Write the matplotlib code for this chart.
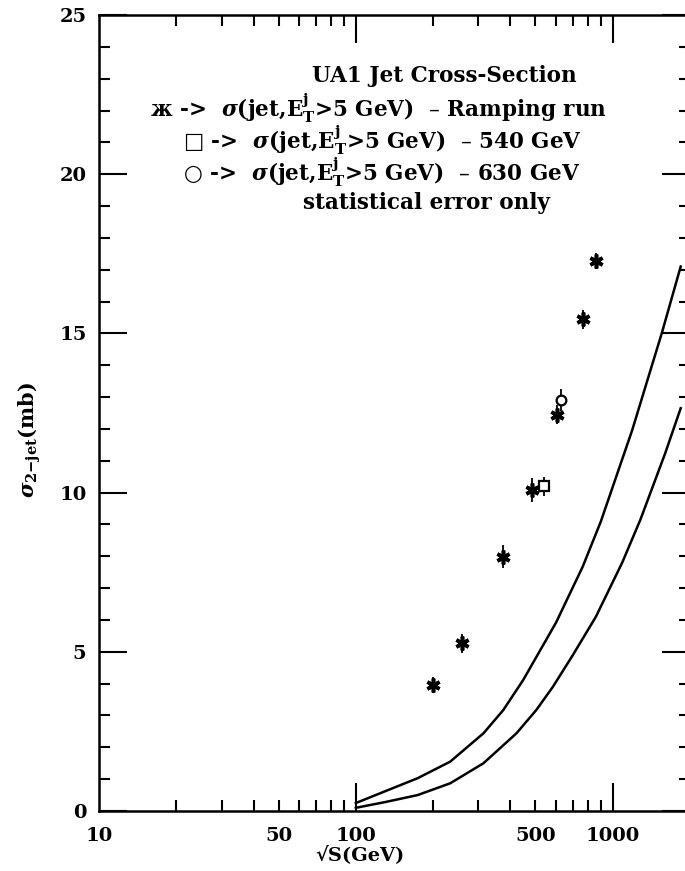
import matplotlib.pyplot as plt
from matplotlib.ticker import FixedLocator, NullFormatter, MultipleLocator
import numpy as np

plt.rcParams['font.family'] = ['DejaVu Serif', 'DejaVu Sans']
plt.rcParams['font.weight'] = 'bold'
plt.rcParams['mathtext.fontset'] = 'dejavuserif'

# ramping run points (sqrt(s) in GeV, sigma in mb)
ramp_x = [200, 259, 373, 483, 607, 764, 860]
ramp_y = [3.96, 5.27, 7.99, 10.08, 12.44, 15.45, 17.28]
ramp_err = [0.25, 0.3, 0.35, 0.37, 0.3, 0.3, 0.25]

x540 = [540]
y540 = [10.2]
err540 = [0.3]

x630 = [630]
y630 = [12.9]
err630 = [0.35]

# two theory curves
up_x = [100, 130, 174, 233, 314, 375, 448, 602, 764, 899, 1191, 1556, 1803, 1840]
up_y = [0.25, 0.62, 1.03, 1.55, 2.44, 3.17, 4.11, 5.92, 7.67, 9.09, 11.96, 15.03, 16.85, 17.1]
lo_x = [100, 130, 174, 233, 314, 422, 504, 585, 700, 860, 1089, 1282, 1602, 1840]
lo_y = [0.1, 0.28, 0.50, 0.87, 1.50, 2.44, 3.17, 3.90, 4.90, 6.10, 7.80, 9.15, 11.24, 12.65]

xtick_vals = [10, 50, 100, 500, 1000]
xtick_labs = ['10', '50', '100', '500', '1000']

fig = plt.figure(figsize=(6.85, 8.71), dpi=100)
ax = fig.add_axes([99 / 685, 60 / 871, 591 / 685, 796 / 871])

ax.plot(up_x, up_y, color='black', lw=1.8)
ax.plot(lo_x, lo_y, color='black', lw=1.8)

ax.errorbar(ramp_x, ramp_y, yerr=ramp_err, fmt='none', ecolor='black', elinewidth=1.3, capsize=0)
ax.plot(ramp_x, ramp_y, ls='none', marker=(6, 2, 0), ms=10, mew=2.6, color='black')
ax.errorbar(x540, y540, yerr=err540, fmt='s', ms=7, mfc='white', mec='black', mew=1.6,
            ecolor='black', elinewidth=1.3, capsize=0)
ax.errorbar(x630, y630, yerr=err630, fmt='o', ms=7, mfc='white', mec='black', mew=1.6,
            ecolor='black', elinewidth=1.3, capsize=0)

ax.set_xscale('log')
ax.set_xlim(10, 2000)
ax.set_ylim(0, 25)

ax.xaxis.set_major_locator(FixedLocator([100, 1000]))
ax.xaxis.set_minor_locator(FixedLocator([20, 30, 40, 50, 60, 70, 80, 90,
                                         200, 300, 400, 500, 600, 700, 800, 900]))
ax.xaxis.set_major_formatter(NullFormatter())
ax.xaxis.set_minor_formatter(NullFormatter())
ax.yaxis.set_major_locator(MultipleLocator(5))
ax.yaxis.set_minor_locator(MultipleLocator(1))

ax.tick_params(which='both', direction='in', top=True, right=True, width=1.5, labelsize=14, pad=9)
ax.tick_params(which='major', length=20)
ax.tick_params(which='minor', length=8)
for s in ax.spines.values():
    s.set_linewidth(1.8)

for v, lab in zip(xtick_vals, xtick_labs):
    ax.text(v, -0.5, lab, ha='center', va='top', fontsize=14, fontweight='bold')


def put(xp, yp, s, fs=15.5, **kw):
    fig.text(xp / 685, 1 - yp / 871, s, va='center', fontsize=fs, fontweight='bold', **kw)


put(360, 855, '√S(GeV)', fs=14, ha='center')
put(30, 440, r'$\sigma_{2\mathrm{-jet}}$(mb)', fs=15, ha='center', rotation=90)

put(312, 76, 'UA1 Jet Cross-Section')
put(150, 108, r'ж ->  $\sigma$(jet,E$_\mathbf{T}^\mathbf{j}$>5 GeV)  – Ramping run')
put(183, 140, r'□ ->  $\sigma$(jet,E$_\mathbf{T}^\mathbf{j}$>5 GeV)  – 540 GeV')
put(183, 172, r'○ ->  $\sigma$(jet,E$_\mathbf{T}^\mathbf{j}$>5 GeV)  – 630 GeV')
put(303, 203, 'statistical error only')

fig.savefig('out.png', dpi=100)
